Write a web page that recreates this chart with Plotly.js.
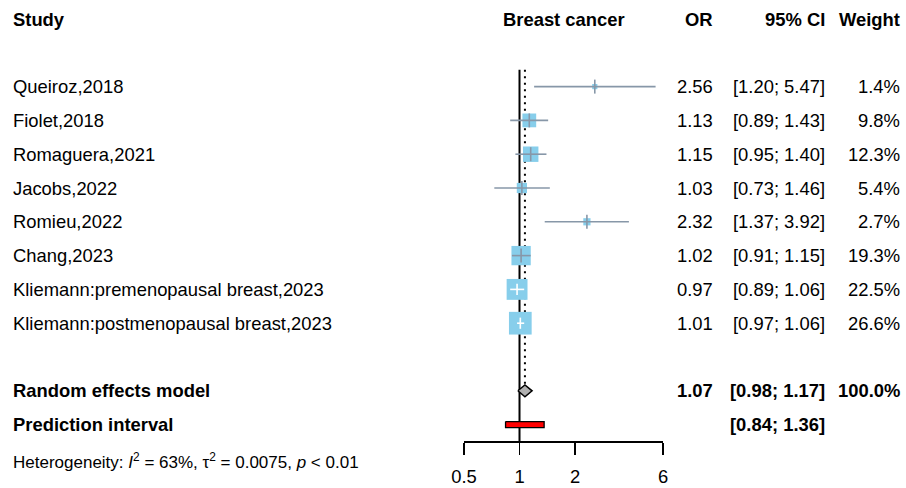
<!DOCTYPE html>
<html>
<head>
<meta charset="utf-8">
<script src="https://cdn.plot.ly/plotly-3.0.1.min.js"></script>
<style>html,body{margin:0;padding:0;background:#fff;}</style>
</head>
<body>
<div id="chart" style="width:906px;height:488px;"></div>
<script>
// Study-level results (odds ratios, 95% CI, random-effects weights in %)
const studies = [
  'Queiroz,2018', 'Fiolet,2018', 'Romaguera,2021', 'Jacobs,2022',
  'Romieu,2022', 'Chang,2023', 'Kliemann:premenopausal breast,2023',
  'Kliemann:postmenopausal breast,2023'
];
const orValues = [2.56, 1.13, 1.15, 1.03, 2.32, 1.02, 0.97, 1.01];
const ciLower  = [1.20, 0.89, 0.95, 0.73, 1.37, 0.91, 0.89, 0.97];
const ciUpper  = [5.47, 1.43, 1.40, 1.46, 3.92, 1.15, 1.06, 1.06];
const weights  = [1.4, 9.8, 12.3, 5.4, 2.7, 19.3, 22.5, 26.6];

// Pooled estimate and prediction interval
const pooledOR = 1.07;
const pooledLower = 0.98;
const pooledUpper = 1.17;
const pooledWeight = 100.0;
const predLower = 0.84;
const predUpper = 1.36;

// Axis ticks
const axisTicks = [0.5, 1, 2, 6];
const axisTickLabels = ['0.5', '1', '2', '6'];

// ---- geometry ----
const W = 906, H = 488;
const ROW0 = 19, ROW_H = 33.8;        // pixel centre of row 0, row spacing
const AXIS_PX = 441;                  // pixel row of the x axis line
const X_LEFT = 464, X_RIGHT = 663;    // pixel span of the x axis
const xRange = [Math.log10(axisTicks[0]), Math.log10(axisTicks[axisTicks.length - 1])];
const pxPerDecade = (X_RIGHT - X_LEFT) / (xRange[1] - xRange[0]);
const yTop = -ROW0 / ROW_H;
const yBottom = (AXIS_PX - ROW0) / ROW_H;

const studyRows = studies.map((_, i) => i + 2);
const pooledRow = 11;
const predRow = 12;

const FONT = 'Liberation Sans, Arial, sans-serif';
const FS = 18.4;
const LINE_COL = '#8797a8';
const SQUARE_COL = '#87CEEB';

const squareSize = weights.map(w => 4.4 * Math.sqrt(w));
const ciInside = studies.map((_, i) =>
  (Math.log10(ciUpper[i]) - Math.log10(ciLower[i])) * pxPerDecade < 0.85 * squareSize[i]);

function segments(idx) {
  const xs = [], ys = [];
  idx.forEach(i => { xs.push(ciLower[i], ciUpper[i], null); ys.push(studyRows[i], studyRows[i], null); });
  return {x: xs, y: ys};
}
const outerIdx = studies.map((_, i) => i).filter(i => !ciInside[i]);
const innerIdx = studies.map((_, i) => i).filter(i => ciInside[i]);
const segOuter = segments(outerIdx);
const segInner = segments(innerIdx);

const traces = [
  // line of no effect
  {x: [1, 1], y: [1.5, yBottom], mode: 'lines', line: {color: '#000', width: 2}, cliponaxis: false},
  // pooled estimate reference line
  {x: [pooledOR, pooledOR], y: [1.5, pooledRow - 0.2], mode: 'lines',
   line: {color: '#000', width: 2, dash: '2px,4.5px'}, cliponaxis: false},
  // weight squares
  {x: orValues, y: studyRows, mode: 'markers',
   marker: {symbol: 'square', size: squareSize, color: SQUARE_COL, opacity: 1, line: {width: 0}}, cliponaxis: false},
  // confidence intervals
  {x: segOuter.x, y: segOuter.y, mode: 'lines', line: {color: LINE_COL, width: 1.6}, cliponaxis: false},
  {x: segInner.x, y: segInner.y, mode: 'lines', line: {color: '#ffffff', width: 1.6}, cliponaxis: false},
  // point-estimate ticks
  {x: outerIdx.map(i => orValues[i]), y: outerIdx.map(i => studyRows[i]), mode: 'markers',
   marker: {symbol: 'line-ns', size: 10, opacity: 1, line: {color: LINE_COL, width: 1.6}}, cliponaxis: false},
  {x: innerIdx.map(i => orValues[i]), y: innerIdx.map(i => studyRows[i]), mode: 'markers',
   marker: {symbol: 'line-ns', size: 8, opacity: 1, line: {color: '#ffffff', width: 1.6}}, cliponaxis: false},
  // pooled diamond
  {x: [pooledLower, pooledOR, pooledUpper, pooledOR, pooledLower],
   y: [pooledRow, pooledRow - 0.175, pooledRow, pooledRow + 0.175, pooledRow],
   mode: 'lines', fill: 'toself', fillcolor: '#b0b0b0', line: {color: '#000', width: 1.5}, cliponaxis: false},
  // prediction interval bar
  {x: [predLower, predUpper, predUpper, predLower, predLower],
   y: [predRow - 0.09, predRow - 0.09, predRow + 0.09, predRow + 0.09, predRow - 0.09],
   mode: 'lines', fill: 'toself', fillcolor: '#ff0000', line: {color: '#000', width: 1.3}, cliponaxis: false}
];

const annotations = [];
function txt(text, px, row, anchor, bold, size) {
  annotations.push({
    text: bold ? '<b>' + text + '</b>' : text,
    x: px / W, xref: 'paper', y: row, yref: 'y',
    xanchor: anchor, yanchor: 'middle', showarrow: false,
    font: {family: FONT, size: size || FS, color: '#000'}
  });
}
const COL_STUDY = 10.5, COL_OR = 715, COL_CI = 827, COL_W = 902, COL_HEAD = 563.5;

// header
txt('Study', COL_STUDY, 0, 'left', true);
txt('Breast cancer', COL_HEAD, 0, 'center', true);
txt('OR', COL_OR, 0, 'right', true);
txt('95% CI', COL_CI, 0, 'right', true);
txt('Weight', COL_W, 0, 'right', true);

// study rows
studies.forEach((s, i) => {
  txt(s, COL_STUDY, studyRows[i], 'left', false);
  txt(orValues[i].toFixed(2), COL_OR, studyRows[i], 'right', false);
  txt('[' + ciLower[i].toFixed(2) + '; ' + ciUpper[i].toFixed(2) + ']', COL_CI, studyRows[i], 'right', false);
  txt(weights[i].toFixed(1) + '%', COL_W, studyRows[i], 'right', false);
});

// pooled rows
txt('Random effects model', COL_STUDY, pooledRow, 'left', true);
txt(pooledOR.toFixed(2), COL_OR, pooledRow, 'right', true);
txt('[' + pooledLower.toFixed(2) + '; ' + pooledUpper.toFixed(2) + ']', COL_CI, pooledRow, 'right', true);
txt(pooledWeight.toFixed(1) + '%', COL_W, pooledRow, 'right', true);
txt('Prediction interval', COL_STUDY, predRow, 'left', true);
txt('[' + predLower.toFixed(2) + '; ' + predUpper.toFixed(2) + ']', COL_CI, predRow, 'right', true);

// heterogeneity statistics
annotations.push({
  text: 'Heterogeneity: <i>I</i><sup>2</sup> = 63%, \u03c4<sup>2</sup> = 0.0075, <i>p</i> &lt; 0.01',
  x: 10.5 / W, xref: 'paper', y: (H - 461) / H, yref: 'paper',
  xanchor: 'left', yanchor: 'middle', showarrow: false,
  font: {family: FONT, size: 17, color: '#000'}
});

const layout = {
  width: W, height: H,
  margin: {l: 0, r: 0, t: 0, b: 0, pad: 0},
  paper_bgcolor: '#fff', plot_bgcolor: '#fff',
  showlegend: false, hovermode: false,
  xaxis: {
    type: 'log', range: xRange, domain: [X_LEFT / W, X_RIGHT / W],
    tickvals: axisTicks, ticktext: axisTickLabels,
    ticks: 'outside', ticklen: 12, tickwidth: 1.5, tickcolor: '#000',
    ticklabelstandoff: 6,
    showline: true, linecolor: '#000', linewidth: 1.5,
    showgrid: false, zeroline: false, fixedrange: true,
    tickfont: {family: FONT, size: FS, color: '#000'}
  },
  yaxis: {
    range: [yBottom, yTop], domain: [(H - AXIS_PX) / H, 1],
    visible: false, showgrid: false, zeroline: false, fixedrange: true
  },
  annotations: annotations
};

Plotly.newPlot('chart', traces, layout, {displayModeBar: false, staticPlot: true});
</script>
</body>
</html>
